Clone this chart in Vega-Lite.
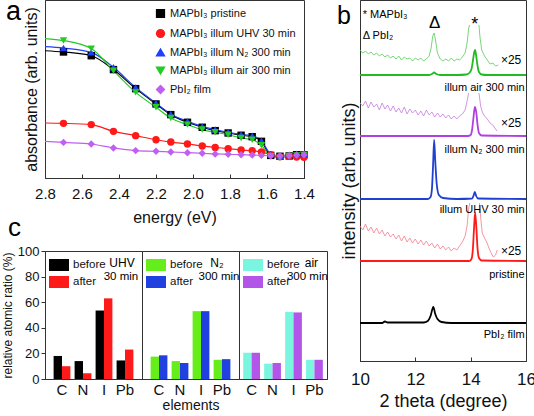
{
"$schema":"https://vega.github.io/schema/vega-lite/v6.json",
"padding":{"top":-3,"left":0,"right":0,"bottom":0},
"config":{"font":"Liberation Sans","view":{"stroke":"#333","strokeWidth":1},
 "axis":{"domainColor":"#333","tickColor":"#333","labelColor":"#111","titleColor":"#111","grid":false,"titleFontWeight":"normal","labelFont":"Liberation Sans","titleFont":"Liberation Sans","labelOverlap":false,"labelFlush":false},
 "legend":{"labelFont":"Liberation Sans","labelColor":"#111"}},
"datasets":{
 "abs":[
  {"s":"MAPbI₃ pristine","e":2.8,"a":0.715},{"s":"MAPbI₃ pristine","e":2.7,"a":0.708},{"s":"MAPbI₃ pristine","e":2.55,"a":0.687},{"s":"MAPbI₃ pristine","e":2.43,"a":0.609},{"s":"MAPbI₃ pristine","e":2.31,"a":0.502},{"s":"MAPbI₃ pristine","e":2.2,"a":0.416},{"s":"MAPbI₃ pristine","e":2.12,"a":0.356},{"s":"MAPbI₃ pristine","e":2.03,"a":0.313},{"s":"MAPbI₃ pristine","e":1.95,"a":0.285},{"s":"MAPbI₃ pristine","e":1.88,"a":0.266},{"s":"MAPbI₃ pristine","e":1.81,"a":0.253},{"s":"MAPbI₃ pristine","e":1.74,"a":0.24},{"s":"MAPbI₃ pristine","e":1.68,"a":0.232},{"s":"MAPbI₃ pristine","e":1.63,"a":0.206},{"s":"MAPbI₃ pristine","e":1.58,"a":0.127},{"s":"MAPbI₃ pristine","e":1.53,"a":0.122},{"s":"MAPbI₃ pristine","e":1.48,"a":0.124},{"s":"MAPbI₃ pristine","e":1.44,"a":0.131},{"s":"MAPbI₃ pristine","e":1.4,"a":0.131},
  {"s":"MAPbI₃ illum UHV 30 min","e":2.8,"a":0.309},{"s":"MAPbI₃ illum UHV 30 min","e":2.7,"a":0.307},{"s":"MAPbI₃ illum UHV 30 min","e":2.55,"a":0.3},{"s":"MAPbI₃ illum UHV 30 min","e":2.43,"a":0.262},{"s":"MAPbI₃ illum UHV 30 min","e":2.31,"a":0.238},{"s":"MAPbI₃ illum UHV 30 min","e":2.2,"a":0.215},{"s":"MAPbI₃ illum UHV 30 min","e":2.12,"a":0.202},{"s":"MAPbI₃ illum UHV 30 min","e":2.03,"a":0.191},{"s":"MAPbI₃ illum UHV 30 min","e":1.95,"a":0.18},{"s":"MAPbI₃ illum UHV 30 min","e":1.88,"a":0.172},{"s":"MAPbI₃ illum UHV 30 min","e":1.81,"a":0.165},{"s":"MAPbI₃ illum UHV 30 min","e":1.74,"a":0.157},{"s":"MAPbI₃ illum UHV 30 min","e":1.68,"a":0.154},{"s":"MAPbI₃ illum UHV 30 min","e":1.63,"a":0.146},{"s":"MAPbI₃ illum UHV 30 min","e":1.58,"a":0.131},{"s":"MAPbI₃ illum UHV 30 min","e":1.53,"a":0.12},{"s":"MAPbI₃ illum UHV 30 min","e":1.48,"a":0.122},{"s":"MAPbI₃ illum UHV 30 min","e":1.44,"a":0.118},{"s":"MAPbI₃ illum UHV 30 min","e":1.4,"a":0.116},
  {"s":"MAPbI₃ illum N₂ 300 min","e":2.8,"a":0.738},{"s":"MAPbI₃ illum N₂ 300 min","e":2.7,"a":0.73},{"s":"MAPbI₃ illum N₂ 300 min","e":2.55,"a":0.706},{"s":"MAPbI₃ illum N₂ 300 min","e":2.43,"a":0.622},{"s":"MAPbI₃ illum N₂ 300 min","e":2.31,"a":0.509},{"s":"MAPbI₃ illum N₂ 300 min","e":2.2,"a":0.421},{"s":"MAPbI₃ illum N₂ 300 min","e":2.12,"a":0.36},{"s":"MAPbI₃ illum N₂ 300 min","e":2.03,"a":0.318},{"s":"MAPbI₃ illum N₂ 300 min","e":1.95,"a":0.29},{"s":"MAPbI₃ illum N₂ 300 min","e":1.88,"a":0.272},{"s":"MAPbI₃ illum N₂ 300 min","e":1.81,"a":0.257},{"s":"MAPbI₃ illum N₂ 300 min","e":1.74,"a":0.245},{"s":"MAPbI₃ illum N₂ 300 min","e":1.68,"a":0.238},{"s":"MAPbI₃ illum N₂ 300 min","e":1.63,"a":0.21},{"s":"MAPbI₃ illum N₂ 300 min","e":1.58,"a":0.135},{"s":"MAPbI₃ illum N₂ 300 min","e":1.53,"a":0.125},{"s":"MAPbI₃ illum N₂ 300 min","e":1.48,"a":0.131},{"s":"MAPbI₃ illum N₂ 300 min","e":1.44,"a":0.137},{"s":"MAPbI₃ illum N₂ 300 min","e":1.4,"a":0.135},
  {"s":"MAPbI₃ illum air 300 min","e":2.8,"a":0.783},{"s":"MAPbI₃ illum air 300 min","e":2.7,"a":0.772},{"s":"MAPbI₃ illum air 300 min","e":2.55,"a":0.727},{"s":"MAPbI₃ illum air 300 min","e":2.43,"a":0.603},{"s":"MAPbI₃ illum air 300 min","e":2.31,"a":0.481},{"s":"MAPbI₃ illum air 300 min","e":2.2,"a":0.397},{"s":"MAPbI₃ illum air 300 min","e":2.12,"a":0.337},{"s":"MAPbI₃ illum air 300 min","e":2.03,"a":0.3},{"s":"MAPbI₃ illum air 300 min","e":1.95,"a":0.272},{"s":"MAPbI₃ illum air 300 min","e":1.88,"a":0.257},{"s":"MAPbI₃ illum air 300 min","e":1.81,"a":0.243},{"s":"MAPbI₃ illum air 300 min","e":1.74,"a":0.225},{"s":"MAPbI₃ illum air 300 min","e":1.68,"a":0.215},{"s":"MAPbI₃ illum air 300 min","e":1.63,"a":0.184},{"s":"MAPbI₃ illum air 300 min","e":1.58,"a":0.122},{"s":"MAPbI₃ illum air 300 min","e":1.53,"a":0.112},{"s":"MAPbI₃ illum air 300 min","e":1.48,"a":0.124},{"s":"MAPbI₃ illum air 300 min","e":1.44,"a":0.127},{"s":"MAPbI₃ illum air 300 min","e":1.4,"a":0.131},
  {"s":"PbI₂ film","e":2.8,"a":0.206},{"s":"PbI₂ film","e":2.7,"a":0.2},{"s":"PbI₂ film","e":2.55,"a":0.191},{"s":"PbI₂ film","e":2.43,"a":0.169},{"s":"PbI₂ film","e":2.31,"a":0.154},{"s":"PbI₂ film","e":2.2,"a":0.15},{"s":"PbI₂ film","e":2.12,"a":0.146},{"s":"PbI₂ film","e":2.03,"a":0.142},{"s":"PbI₂ film","e":1.95,"a":0.139},{"s":"PbI₂ film","e":1.88,"a":0.135},{"s":"PbI₂ film","e":1.81,"a":0.133},{"s":"PbI₂ film","e":1.74,"a":0.131},{"s":"PbI₂ film","e":1.68,"a":0.129},{"s":"PbI₂ film","e":1.63,"a":0.127},{"s":"PbI₂ film","e":1.58,"a":0.125},{"s":"PbI₂ film","e":1.53,"a":0.124},{"s":"PbI₂ film","e":1.48,"a":0.125},{"s":"PbI₂ film","e":1.44,"a":0.129},{"s":"PbI₂ film","e":1.4,"a":0.131}
 ],
 "xps":[
  {"g":"UHV","el":"C","t":"before","v":18},{"g":"UHV","el":"C","t":"after","v":10},{"g":"UHV","el":"N","t":"before","v":14},{"g":"UHV","el":"N","t":"after","v":4.5},{"g":"UHV","el":"I","t":"before","v":53.5},{"g":"UHV","el":"I","t":"after","v":63},{"g":"UHV","el":"Pb","t":"before","v":14.5},{"g":"UHV","el":"Pb","t":"after","v":23},
  {"g":"N2","el":"C","t":"before","v":17.5},{"g":"N2","el":"C","t":"after","v":18.5},{"g":"N2","el":"N","t":"before","v":14},{"g":"N2","el":"N","t":"after","v":12.5},{"g":"N2","el":"I","t":"before","v":53},{"g":"N2","el":"I","t":"after","v":53},{"g":"N2","el":"Pb","t":"before","v":15},{"g":"N2","el":"Pb","t":"after","v":15.5},
  {"g":"air","el":"C","t":"before","v":20.5},{"g":"air","el":"C","t":"after","v":20.5},{"g":"air","el":"N","t":"before","v":12},{"g":"air","el":"N","t":"after","v":12.5},{"g":"air","el":"I","t":"before","v":52.5},{"g":"air","el":"I","t":"after","v":52},{"g":"air","el":"Pb","t":"before","v":15},{"g":"air","el":"Pb","t":"after","v":15}
 ],
 "xrd":[
  {"sp":"air","k":"main","x":10,"y":286},{"sp":"air","k":"main","x":11,"y":286},{"sp":"air","k":"main","x":12,"y":286},{"sp":"air","k":"main","x":12.5,"y":286},{"sp":"air","k":"main","x":12.6,"y":287},{"sp":"air","k":"main","x":12.68,"y":288.5},{"sp":"air","k":"main","x":12.76,"y":287},{"sp":"air","k":"main","x":12.9,"y":286},{"sp":"air","k":"main","x":13.5,"y":286},{"sp":"air","k":"main","x":13.85,"y":286.5},{"sp":"air","k":"main","x":13.95,"y":288},{"sp":"air","k":"main","x":14.03,"y":292},{"sp":"air","k":"main","x":14.08,"y":300},{"sp":"air","k":"main","x":14.13,"y":309},{"sp":"air","k":"main","x":14.16,"y":311},{"sp":"air","k":"main","x":14.2,"y":305},{"sp":"air","k":"main","x":14.25,"y":295},{"sp":"air","k":"main","x":14.3,"y":289},{"sp":"air","k":"main","x":14.4,"y":286.5},{"sp":"air","k":"main","x":14.6,"y":286},{"sp":"air","k":"main","x":16,"y":286},
  {"sp":"air25a","k":"x25","x":10,"y":311},{"sp":"air25a","k":"x25","x":10.1,"y":308},{"sp":"air25a","k":"x25","x":10.2,"y":310},{"sp":"air25a","k":"x25","x":10.3,"y":307},{"sp":"air25a","k":"x25","x":10.4,"y":309},{"sp":"air25a","k":"x25","x":10.5,"y":306},{"sp":"air25a","k":"x25","x":10.6,"y":308},{"sp":"air25a","k":"x25","x":10.7,"y":305},{"sp":"air25a","k":"x25","x":10.8,"y":307},{"sp":"air25a","k":"x25","x":10.9,"y":304},{"sp":"air25a","k":"x25","x":11.0,"y":306},{"sp":"air25a","k":"x25","x":11.1,"y":303},{"sp":"air25a","k":"x25","x":11.2,"y":305},{"sp":"air25a","k":"x25","x":11.3,"y":302},{"sp":"air25a","k":"x25","x":11.4,"y":305},{"sp":"air25a","k":"x25","x":11.5,"y":301},{"sp":"air25a","k":"x25","x":11.6,"y":304},{"sp":"air25a","k":"x25","x":11.7,"y":302},{"sp":"air25a","k":"x25","x":11.8,"y":303},{"sp":"air25a","k":"x25","x":11.9,"y":300},{"sp":"air25a","k":"x25","x":12.0,"y":303},{"sp":"air25a","k":"x25","x":12.1,"y":301},{"sp":"air25a","k":"x25","x":12.2,"y":303},{"sp":"air25a","k":"x25","x":12.3,"y":300},{"sp":"air25a","k":"x25","x":12.4,"y":302},{"sp":"air25a","k":"x25","x":12.5,"y":305},{"sp":"air25a","k":"x25","x":12.57,"y":313},{"sp":"air25a","k":"x25","x":12.63,"y":325},{"sp":"air25a","k":"x25","x":12.68,"y":328},{"sp":"air25a","k":"x25","x":12.73,"y":321},{"sp":"air25a","k":"x25","x":12.8,"y":308},{"sp":"air25a","k":"x25","x":12.9,"y":302},{"sp":"air25a","k":"x25","x":13.0,"y":300},{"sp":"air25a","k":"x25","x":13.1,"y":302},{"sp":"air25a","k":"x25","x":13.2,"y":300},{"sp":"air25a","k":"x25","x":13.3,"y":303},{"sp":"air25a","k":"x25","x":13.4,"y":300},{"sp":"air25a","k":"x25","x":13.5,"y":302},{"sp":"air25a","k":"x25","x":13.6,"y":301},{"sp":"air25a","k":"x25","x":13.7,"y":304},{"sp":"air25a","k":"x25","x":13.8,"y":308},{"sp":"air25a","k":"x25","x":13.87,"y":318},{"sp":"air25a","k":"x25","x":13.93,"y":333},{"sp":"air25a","k":"x25","x":13.96,"y":336},
  {"sp":"air25b","k":"x25","x":14.3,"y":336},{"sp":"air25b","k":"x25","x":14.34,"y":323},{"sp":"air25b","k":"x25","x":14.4,"y":311},{"sp":"air25b","k":"x25","x":14.5,"y":305},{"sp":"air25b","k":"x25","x":14.6,"y":301},{"sp":"air25b","k":"x25","x":14.7,"y":297},{"sp":"air25b","k":"x25","x":14.8,"y":298},{"sp":"air25b","k":"x25","x":14.9,"y":295},{"sp":"air25b","k":"x25","x":15.0,"y":296},
  {"sp":"N2","k":"main","x":10,"y":225},{"sp":"N2","k":"main","x":13.9,"y":225},{"sp":"N2","k":"main","x":14.0,"y":226},{"sp":"N2","k":"main","x":14.05,"y":231},{"sp":"N2","k":"main","x":14.1,"y":243},{"sp":"N2","k":"main","x":14.15,"y":254},{"sp":"N2","k":"main","x":14.2,"y":249},{"sp":"N2","k":"main","x":14.25,"y":236},{"sp":"N2","k":"main","x":14.3,"y":228},{"sp":"N2","k":"main","x":14.4,"y":225.5},{"sp":"N2","k":"main","x":16,"y":225},
  {"sp":"N225a","k":"x25","x":10,"y":258},{"sp":"N225a","k":"x25","x":10.1,"y":255},{"sp":"N225a","k":"x25","x":10.2,"y":260},{"sp":"N225a","k":"x25","x":10.3,"y":253},{"sp":"N225a","k":"x25","x":10.4,"y":259},{"sp":"N225a","k":"x25","x":10.5,"y":254},{"sp":"N225a","k":"x25","x":10.6,"y":257},{"sp":"N225a","k":"x25","x":10.7,"y":251},{"sp":"N225a","k":"x25","x":10.8,"y":258},{"sp":"N225a","k":"x25","x":10.9,"y":252},{"sp":"N225a","k":"x25","x":11.0,"y":256},{"sp":"N225a","k":"x25","x":11.1,"y":250},{"sp":"N225a","k":"x25","x":11.2,"y":255},{"sp":"N225a","k":"x25","x":11.3,"y":249},{"sp":"N225a","k":"x25","x":11.4,"y":253},{"sp":"N225a","k":"x25","x":11.5,"y":248},{"sp":"N225a","k":"x25","x":11.6,"y":254},{"sp":"N225a","k":"x25","x":11.7,"y":247},{"sp":"N225a","k":"x25","x":11.8,"y":252},{"sp":"N225a","k":"x25","x":11.9,"y":248},{"sp":"N225a","k":"x25","x":12.0,"y":251},{"sp":"N225a","k":"x25","x":12.1,"y":246},{"sp":"N225a","k":"x25","x":12.2,"y":250},{"sp":"N225a","k":"x25","x":12.3,"y":245},{"sp":"N225a","k":"x25","x":12.4,"y":251},{"sp":"N225a","k":"x25","x":12.5,"y":246},{"sp":"N225a","k":"x25","x":12.6,"y":249},{"sp":"N225a","k":"x25","x":12.7,"y":244},{"sp":"N225a","k":"x25","x":12.8,"y":248},{"sp":"N225a","k":"x25","x":12.9,"y":244},{"sp":"N225a","k":"x25","x":13.0,"y":247},{"sp":"N225a","k":"x25","x":13.1,"y":243},{"sp":"N225a","k":"x25","x":13.2,"y":246},{"sp":"N225a","k":"x25","x":13.3,"y":242},{"sp":"N225a","k":"x25","x":13.4,"y":245},{"sp":"N225a","k":"x25","x":13.5,"y":242},{"sp":"N225a","k":"x25","x":13.6,"y":245},{"sp":"N225a","k":"x25","x":13.7,"y":247},{"sp":"N225a","k":"x25","x":13.8,"y":251},{"sp":"N225a","k":"x25","x":13.87,"y":260},{"sp":"N225a","k":"x25","x":13.93,"y":268},
  {"sp":"N225b","k":"x25","x":14.3,"y":268},{"sp":"N225b","k":"x25","x":14.36,"y":255},{"sp":"N225b","k":"x25","x":14.42,"y":249},{"sp":"N225b","k":"x25","x":14.5,"y":245},{"sp":"N225b","k":"x25","x":14.6,"y":242},{"sp":"N225b","k":"x25","x":14.7,"y":238},{"sp":"N225b","k":"x25","x":14.8,"y":236},{"sp":"N225b","k":"x25","x":14.9,"y":232},{"sp":"N225b","k":"x25","x":14.95,"y":230},
  {"sp":"UHV","k":"main","x":10,"y":162},{"sp":"UHV","k":"main","x":12.45,"y":162},{"sp":"UHV","k":"main","x":12.55,"y":164},{"sp":"UHV","k":"main","x":12.6,"y":172},{"sp":"UHV","k":"main","x":12.64,"y":195},{"sp":"UHV","k":"main","x":12.68,"y":221},{"sp":"UHV","k":"main","x":12.72,"y":200},{"sp":"UHV","k":"main","x":12.77,"y":178},{"sp":"UHV","k":"main","x":12.85,"y":166},{"sp":"UHV","k":"main","x":13.0,"y":163},{"sp":"UHV","k":"main","x":13.5,"y":162},{"sp":"UHV","k":"main","x":14.05,"y":162.5},{"sp":"UHV","k":"main","x":14.1,"y":165},{"sp":"UHV","k":"main","x":14.15,"y":169},{"sp":"UHV","k":"main","x":14.2,"y":165},{"sp":"UHV","k":"main","x":14.27,"y":162.5},{"sp":"UHV","k":"main","x":16,"y":162},
  {"sp":"pristine","k":"main","x":10,"y":100},{"sp":"pristine","k":"main","x":13.95,"y":100},{"sp":"pristine","k":"main","x":14.03,"y":102},{"sp":"pristine","k":"main","x":14.08,"y":112},{"sp":"pristine","k":"main","x":14.12,"y":132},{"sp":"pristine","k":"main","x":14.16,"y":148},{"sp":"pristine","k":"main","x":14.2,"y":136},{"sp":"pristine","k":"main","x":14.25,"y":112},{"sp":"pristine","k":"main","x":14.3,"y":103},{"sp":"pristine","k":"main","x":14.4,"y":100.5},{"sp":"pristine","k":"main","x":16,"y":100},
  {"sp":"pri25a","k":"x25","x":10,"y":135},{"sp":"pri25a","k":"x25","x":10.1,"y":131},{"sp":"pri25a","k":"x25","x":10.2,"y":137},{"sp":"pri25a","k":"x25","x":10.3,"y":130},{"sp":"pri25a","k":"x25","x":10.4,"y":134},{"sp":"pri25a","k":"x25","x":10.5,"y":128},{"sp":"pri25a","k":"x25","x":10.6,"y":133},{"sp":"pri25a","k":"x25","x":10.7,"y":127},{"sp":"pri25a","k":"x25","x":10.8,"y":131},{"sp":"pri25a","k":"x25","x":10.9,"y":125},{"sp":"pri25a","k":"x25","x":11.0,"y":129},{"sp":"pri25a","k":"x25","x":11.1,"y":124},{"sp":"pri25a","k":"x25","x":11.2,"y":127},{"sp":"pri25a","k":"x25","x":11.3,"y":122},{"sp":"pri25a","k":"x25","x":11.4,"y":126},{"sp":"pri25a","k":"x25","x":11.5,"y":120},{"sp":"pri25a","k":"x25","x":11.6,"y":125},{"sp":"pri25a","k":"x25","x":11.7,"y":119},{"sp":"pri25a","k":"x25","x":11.8,"y":123},{"sp":"pri25a","k":"x25","x":11.9,"y":118},{"sp":"pri25a","k":"x25","x":12.0,"y":122},{"sp":"pri25a","k":"x25","x":12.1,"y":117},{"sp":"pri25a","k":"x25","x":12.2,"y":121},{"sp":"pri25a","k":"x25","x":12.3,"y":116},{"sp":"pri25a","k":"x25","x":12.4,"y":120},{"sp":"pri25a","k":"x25","x":12.5,"y":115},{"sp":"pri25a","k":"x25","x":12.6,"y":118},{"sp":"pri25a","k":"x25","x":12.7,"y":113},{"sp":"pri25a","k":"x25","x":12.8,"y":117},{"sp":"pri25a","k":"x25","x":12.9,"y":112},{"sp":"pri25a","k":"x25","x":13.0,"y":115},{"sp":"pri25a","k":"x25","x":13.1,"y":111},{"sp":"pri25a","k":"x25","x":13.2,"y":114},{"sp":"pri25a","k":"x25","x":13.3,"y":110},{"sp":"pri25a","k":"x25","x":13.4,"y":113},{"sp":"pri25a","k":"x25","x":13.5,"y":111},{"sp":"pri25a","k":"x25","x":13.6,"y":115},{"sp":"pri25a","k":"x25","x":13.7,"y":119},{"sp":"pri25a","k":"x25","x":13.8,"y":125},{"sp":"pri25a","k":"x25","x":13.87,"y":135},{"sp":"pri25a","k":"x25","x":13.93,"y":153},{"sp":"pri25a","k":"x25","x":13.97,"y":158},
  {"sp":"pri25b","k":"x25","x":14.32,"y":158},{"sp":"pri25b","k":"x25","x":14.37,"y":141},{"sp":"pri25b","k":"x25","x":14.42,"y":128},{"sp":"pri25b","k":"x25","x":14.5,"y":123},{"sp":"pri25b","k":"x25","x":14.58,"y":119},{"sp":"pri25b","k":"x25","x":14.66,"y":113},{"sp":"pri25b","k":"x25","x":14.74,"y":108},{"sp":"pri25b","k":"x25","x":14.82,"y":104},{"sp":"pri25b","k":"x25","x":14.9,"y":106},{"sp":"pri25b","k":"x25","x":14.96,"y":111},
  {"sp":"PbI2","k":"main","x":10,"y":38},{"sp":"PbI2","k":"main","x":10.8,"y":38},{"sp":"PbI2","k":"main","x":10.9,"y":39.5},{"sp":"PbI2","k":"main","x":11.0,"y":38.5},{"sp":"PbI2","k":"main","x":12.3,"y":38.5},{"sp":"PbI2","k":"main","x":12.45,"y":40},{"sp":"PbI2","k":"main","x":12.55,"y":45},{"sp":"PbI2","k":"main","x":12.65,"y":54},{"sp":"PbI2","k":"main","x":12.72,"y":47},{"sp":"PbI2","k":"main","x":12.8,"y":42},{"sp":"PbI2","k":"main","x":12.95,"y":39},{"sp":"PbI2","k":"main","x":13.3,"y":38},{"sp":"PbI2","k":"main","x":16,"y":38}
 ]
},
"spacing":7,
"resolve":{"scale":{"color":"independent","shape":"independent"},"legend":{"color":"independent","shape":"independent"}},
"hconcat":[
 {"spacing":-12,
  "resolve":{"scale":{"color":"independent","shape":"independent"},"legend":{"color":"independent","shape":"independent"}},
  "vconcat":[
  {"width":259,"height":178,
   "layer":[
    {"data":{"name":"abs"},"mark":{"type":"line","interpolate":"monotone","strokeWidth":1.2},
     "encoding":{
      "x":{"field":"e","type":"quantitative","scale":{"domain":[1.4,2.8],"reverse":true,"nice":false,"zero":false},"axis":{"values":[2.8,2.6,2.4,2.2,2.0,1.8,1.6,1.4],"tickCount":20,"format":".1f","title":"energy (eV)","labelFontSize":15,"titleFontSize":16,"tickSize":-4,"labelPadding":12,"titlePadding":8,"labelOverlap":false,"labelBound":false}},
      "y":{"field":"a","type":"quantitative","scale":{"domain":[0,1],"nice":false},"axis":{"labels":false,"ticks":false,"title":"absorbance (arb. units)","titleFontSize":16,"titlePadding":6}},
      "color":{"field":"s","type":"nominal","scale":{"domain":["MAPbI₃ pristine","MAPbI₃ illum UHV 30 min","MAPbI₃ illum N₂ 300 min","MAPbI₃ illum air 300 min","PbI₂ film"],"range":["#000000","#ff1a1a","#1f3fff","#22cc22","#c060f0"]},"legend":{"orient":"top-right","title":null,"labelFontSize":11,"symbolSize":60,"rowPadding":5,"offset":8,"labelLimit":200,"symbolOpacity":1}}}},
    {"data":{"name":"abs"},"transform":[{"filter":"datum.e < 2.75"}],"mark":{"type":"point","filled":true,"size":55,"opacity":1},
     "encoding":{
      "x":{"field":"e","type":"quantitative"},
      "y":{"field":"a","type":"quantitative"},
      "color":{"field":"s","type":"nominal","legend":{"orient":"top-right","title":null,"labelFontSize":11,"symbolSize":60,"rowPadding":5,"offset":8,"labelLimit":200,"symbolOpacity":1}},
      "shape":{"field":"s","type":"nominal","scale":{"domain":["MAPbI₃ pristine","MAPbI₃ illum UHV 30 min","MAPbI₃ illum N₂ 300 min","MAPbI₃ illum air 300 min","PbI₂ film"],"range":["square","circle","triangle-up","triangle-down","diamond"]},"legend":{"orient":"top-right","title":null,"labelFontSize":11,"symbolSize":60,"rowPadding":5,"offset":8,"labelLimit":200,"symbolOpacity":1}}}},
    {"data":{"values":[{}]},"mark":{"type":"text","fontSize":27,"align":"center","baseline":"middle"},
     "encoding":{"x":{"datum":2.97},"y":{"datum":0.93},"text":{"value":"a"}}}
   ]},
  {"spacing":0,"bounds":"flush",
   "resolve":{"scale":{"color":"independent"},"legend":{"color":"independent"}},
   "hconcat":[
    {"width":97,"height":128,"title":{"text":"c","anchor":"start","frame":"group","fontSize":26,"fontWeight":"normal","dx":-37,"offset":4},
     "layer":[
      {"data":{"name":"xps"},"transform":[{"filter":"datum.g === 'UHV'"}],"mark":{"type":"bar"},
       "encoding":{
        "x":{"field":"el","type":"nominal","sort":["C","N","I","Pb"],"scale":{"paddingInner":0.2,"paddingOuter":0.41},"axis":{"title":null,"labelAngle":0,"labelFontSize":15,"ticks":false,"labelPadding":3}},
        "xOffset":{"field":"t","type":"nominal","sort":["before","after"]},
        "y":{"field":"v","type":"quantitative","scale":{"domain":[0,100]},"axis":{"values":[0,20,40,60,80,100],"tickCount":20,"labelFontSize":13,"title":"relative atomic ratio (%)","titleFontSize":12,"tickSize":4,"titlePadding":3,"labelOverlap":false,"labelBound":false}},
        "color":{"field":"t","type":"nominal","scale":{"domain":["before","after"],"range":["#000000","#ff1a1a"]},"legend":{"orient":"top-left","title":null,"labelFontSize":11.5,"symbolType":"M-1,-0.6H1V0.6H-1Z","symbolSize":400,"symbolStrokeWidth":0,"offset":4,"rowPadding":1,"labelOffset":4,"symbolOpacity":1}}}},
      {"data":{"values":[{}]},"mark":{"type":"text","fontSize":12,"dx":-3},"encoding":{"x":{"datum":"Pb"},"y":{"datum":91},"text":{"value":"UHV"}}},
      {"data":{"values":[{}]},"mark":{"type":"text","fontSize":11.5,"dx":-4},"encoding":{"x":{"datum":"Pb"},"y":{"datum":80},"text":{"value":"30 min"}}}
     ]},
    {"width":97,"height":128,
     "layer":[
      {"data":{"name":"xps"},"transform":[{"filter":"datum.g === 'N2'"}],"mark":{"type":"bar"},
       "encoding":{
        "x":{"field":"el","type":"nominal","sort":["C","N","I","Pb"],"scale":{"paddingInner":0.2,"paddingOuter":0.41},"axis":{"title":"elements","titleFontSize":14,"titlePadding":1,"labelAngle":0,"labelFontSize":15,"ticks":false,"labelPadding":3}},
        "xOffset":{"field":"t","type":"nominal","sort":["before","after"]},
        "y":{"field":"v","type":"quantitative","scale":{"domain":[0,100]},"axis":null},
        "color":{"field":"t","type":"nominal","scale":{"domain":["before","after"],"range":["#66ee1a","#2040e0"]},"legend":{"orient":"top-left","title":null,"labelFontSize":11.5,"symbolType":"M-1,-0.6H1V0.6H-1Z","symbolSize":400,"symbolStrokeWidth":0,"offset":4,"rowPadding":1,"labelOffset":4,"symbolOpacity":1}}}},
      {"data":{"values":[{}]},"mark":{"type":"text","fontSize":12,"dx":-5},"encoding":{"x":{"datum":"Pb"},"y":{"datum":91},"text":{"value":"N₂"}}},
      {"data":{"values":[{}]},"mark":{"type":"text","fontSize":11.5,"dx":-3},"encoding":{"x":{"datum":"Pb"},"y":{"datum":80},"text":{"value":"300 min"}}}
     ]},
    {"width":88,"height":128,
     "layer":[
      {"data":{"name":"xps"},"transform":[{"filter":"datum.g === 'air'"}],"mark":{"type":"bar"},
       "encoding":{
        "x":{"field":"el","type":"nominal","sort":["C","N","I","Pb"],"scale":{"paddingInner":0.2,"paddingOuter":0.2},"axis":{"title":null,"labelAngle":0,"labelFontSize":15,"ticks":false,"labelPadding":3}},
        "xOffset":{"field":"t","type":"nominal","sort":["before","after"]},
        "y":{"field":"v","type":"quantitative","scale":{"domain":[0,100]},"axis":null},
        "color":{"field":"t","type":"nominal","scale":{"domain":["before","after"],"range":["#7af5e0","#b455ea"]},"legend":{"orient":"top-left","title":null,"labelFontSize":11.5,"symbolType":"M-1,-0.6H1V0.6H-1Z","symbolSize":400,"symbolStrokeWidth":0,"offset":4,"rowPadding":1,"labelOffset":4,"symbolOpacity":1}}}},
      {"data":{"values":[{}]},"mark":{"type":"text","fontSize":12,"dx":-3},"encoding":{"x":{"datum":"Pb"},"y":{"datum":91},"text":{"value":"air"}}},
      {"data":{"values":[{}]},"mark":{"type":"text","fontSize":11.5,"dx":-7},"encoding":{"x":{"datum":"Pb"},"y":{"datum":80},"text":{"value":"300 min"}}}
     ]}
   ]}
 ]},
 {"width":166,"height":361,
  "layer":[
   {"data":{"name":"xrd"},"transform":[{"filter":"datum.k === 'main'"}],"mark":{"type":"line","interpolate":"monotone","strokeWidth":1.8},
    "encoding":{
     "x":{"field":"x","type":"quantitative","scale":{"domain":[10,16],"nice":false,"zero":false},"axis":{"values":[10,12,14,16],"tickCount":20,"format":"d","title":"2 theta (degree)","labelFontSize":17,"titleFontSize":18,"tickSize":-4,"labelPadding":14,"titlePadding":5,"labelOverlap":false,"labelBound":false}},
     "y":{"field":"y","type":"quantitative","scale":{"domain":[0,361],"nice":false,"zero":false},"axis":{"labels":false,"ticks":false,"title":"intensity (arb. units)","titleFontSize":18,"titlePadding":2}},
     "detail":{"field":"sp"},
     "color":{"field":"sp","type":"nominal","scale":{"domain":["air","air25a","air25b","N2","N225a","N225b","UHV","pristine","pri25a","pri25b","PbI2"],"range":["#22bb22","#55cc55","#55cc55","#b040e0","#c77ae0","#c77ae0","#2040d0","#ff1a1a","#ef7f8f","#ef7f8f","#000000"]},"legend":null}}},
   {"data":{"name":"xrd"},"transform":[{"filter":"datum.k === 'x25'"}],"mark":{"type":"line","strokeWidth":0.8},
    "encoding":{
     "x":{"field":"x","type":"quantitative"},
     "y":{"field":"y","type":"quantitative"},
     "detail":{"field":"sp"},
     "color":{"field":"sp","type":"nominal","legend":null}}},
   {"data":{"values":[{}]},"mark":{"type":"text","fontSize":25,"align":"center","baseline":"middle"},"encoding":{"x":{"datum":9.42},"y":{"datum":345},"text":{"value":"b"}}},
   {"data":{"values":[{}]},"mark":{"type":"text","fontSize":11,"align":"left"},"encoding":{"x":{"datum":10.1},"y":{"datum":346},"text":{"value":"* MAPbI₃"}}},
   {"data":{"values":[{}]},"mark":{"type":"text","fontSize":11,"align":"left"},"encoding":{"x":{"datum":10.1},"y":{"datum":325},"text":{"value":"Δ PbI₂"}}},
   {"data":{"values":[{}]},"mark":{"type":"text","fontSize":17},"encoding":{"x":{"datum":12.7},"y":{"datum":338},"text":{"value":"Δ"}}},
   {"data":{"values":[{}]},"mark":{"type":"text","fontSize":18},"encoding":{"x":{"datum":14.15},"y":{"datum":336},"text":{"value":"*"}}},
   {"data":{"values":[{}]},"mark":{"type":"text","fontSize":12},"encoding":{"x":{"datum":15.46},"y":{"datum":301},"text":{"value":"×25"}}},
   {"data":{"values":[{}]},"mark":{"type":"text","fontSize":12},"encoding":{"x":{"datum":15.46},"y":{"datum":238},"text":{"value":"×25"}}},
   {"data":{"values":[{}]},"mark":{"type":"text","fontSize":12},"encoding":{"x":{"datum":15.46},"y":{"datum":110},"text":{"value":"×25"}}},
   {"data":{"values":[{}]},"mark":{"type":"text","fontSize":11,"align":"right"},"encoding":{"x":{"datum":15.95},"y":{"datum":273},"text":{"value":"illum air 300 min"}}},
   {"data":{"values":[{}]},"mark":{"type":"text","fontSize":11,"align":"right"},"encoding":{"x":{"datum":15.95},"y":{"datum":211},"text":{"value":"illum N₂ 300 min"}}},
   {"data":{"values":[{}]},"mark":{"type":"text","fontSize":11,"align":"right"},"encoding":{"x":{"datum":15.95},"y":{"datum":151},"text":{"value":"illum UHV 30 min"}}},
   {"data":{"values":[{}]},"mark":{"type":"text","fontSize":11,"align":"right"},"encoding":{"x":{"datum":15.95},"y":{"datum":86},"text":{"value":"pristine"}}},
   {"data":{"values":[{}]},"mark":{"type":"text","fontSize":11,"align":"right"},"encoding":{"x":{"datum":15.95},"y":{"datum":26},"text":{"value":"PbI₂ film"}}}
  ]}
]
}
